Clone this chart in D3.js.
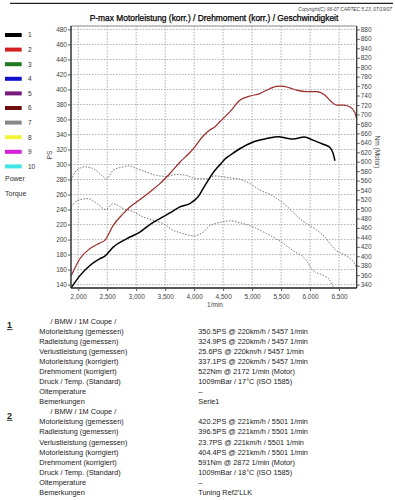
<!DOCTYPE html>
<html>
<head>
<meta charset="utf-8">
<script src="https://cdn.jsdelivr.net/npm/d3@7"></script>
<style>
  body { margin: 0; background: #fff; }
  svg { display: block; font-family: 'Liberation Sans', Arial, sans-serif; }
</style>
</head>
<body>
<svg id="chart" width="395" height="500"></svg>
<script>
(function () {
  'use strict'

  // car 1 (Serie) power, PS over 1/min
  var rpmCar1 = [1880, 2029, 2202, 2374, 2460, 2603, 2834, 3064, 3236, 3409, 3581, 3753, 3926, 4069, 4186, 4357, 4450, 4530, 4615, 4788, 5018, 5248, 5457, 5600, 5707, 5900, 6052, 6224, 6340, 6397, 6430]
  var psCar1 = [136, 152, 165.5, 174.5, 178, 190, 201, 210, 220, 228, 235.5, 243.5, 248, 257, 272, 292, 300, 307, 312, 321, 330, 334.5, 337.1, 335, 334, 336.5, 332.5, 327, 323, 315, 305]

  // car 2 (Tuning) power
  var rpmCar2 = [1880, 2029, 2202, 2374, 2460, 2603, 2776, 2891, 3007, 3236, 3409, 3581, 3753, 3926, 4012, 4155, 4270, 4357, 4443, 4615, 4788, 4960, 5133, 5305, 5420, 5501, 5650, 5765, 5938, 6110, 6253, 6369, 6455, 6569, 6684, 6770, 6805]
  var psCar2 = [152, 174.5, 188, 195.5, 199, 219, 234.5, 243.5, 250, 263.5, 274.5, 288, 303, 316, 323.5, 338, 346, 350, 357, 370, 385.5, 391, 394.5, 401, 404, 404.4, 402, 399, 397, 397, 392.5, 383.5, 379, 379, 377, 370, 360]

  // torque, Nm (Motor)
  var rpmTorque1 = [1880, 1985, 2172, 2330, 2474, 2603, 2776, 2948, 3121, 3293, 3466, 3638, 3810, 3983, 4155, 4270, 4357, 4500, 4615, 4788, 5018, 5248, 5457, 5707, 5909, 6052, 6228, 6343, 6400]
  var nmCar1 = [505, 518, 522, 511, 499, 511, 501, 494, 483, 476, 469, 455, 448, 443, 451, 465, 469, 473, 475, 471, 462, 448, 434, 412, 395, 370, 359.5, 349, 336]
  var rpmTorque2 = [1880, 1970, 2115, 2260, 2403, 2489, 2603, 2776, 2872, 3007, 3179, 3351, 3524, 3696, 3868, 4040, 4214, 4357, 4500, 4615, 4788, 4960, 5133, 5305, 5501, 5650, 5765, 5938, 6110, 6253, 6369, 6455, 6569, 6684, 6770, 6805]
  var nmCar2 = [561, 582, 589, 585.5, 571, 564, 582, 589, 591, 585.5, 578, 571, 569, 573, 571, 564, 564, 570, 568, 566, 563, 554, 540, 531, 516, 500, 486, 469, 456, 441, 423, 412, 405, 396, 384, 373]

  var rpmTicks = [2000, 2500, 3000, 3500, 4000, 4500, 5000, 5500, 6000, 6500]
  var psTicks = d3.range(140, 481, 20)
  var nmTicks = d3.range(340, 881, 20)

  var legendNames = ['1', '2', '3', '4', '5', '6', '7', '8', '9', '10']
  var legendColors = ['#000000', '#d42020', '#1f7a1f', '#1010cc', '#7a1a7a', '#6e0d0d', '#888888', '#f4f43a', '#d61fd6', '#3ee6e6']

  var rowLabels = ['Motorleistung (gemessen)', 'Radleistung (gemessen)', 'Verlustleistung (gemessen)', 'Motorleistung (korrigiert)', 'Drehmoment (korrigiert)', 'Druck / Temp. (Standard)', 'Oltemperature', 'Bemerkungen']
  var car1Values = ['350.5PS @ 220km/h / 5457 1/min', '324.9PS @ 220km/h / 5457 1/min', '25.6PS @ 220km/h / 5457 1/min', '337.1PS @ 220km/h / 5457 1/min', '522Nm @ 2172 1/min (Motor)', '1009mBar / 17°C   (ISO 1585)', '–', 'Serie1']
  var car2Values = ['420.2PS @ 221km/h / 5501 1/min', '396.5PS @ 221km/h / 5501 1/min', '23.7PS @ 221km/h / 5501 1/min', '404.4PS @ 221km/h / 5501 1/min', '591Nm @ 2872 1/min (Motor)', '1009mBar / 18°C   (ISO 1585)', '–', "Tuning Ref2'LLK"]

  var svg = d3.select('#chart')

  var x = d3.scaleLinear().domain([1875, 6805]).range([71, 356.7])
  var yPs = d3.scaleLinear().domain([135.5, 484.5]).range([288, 26])
  var yNm = d3.scaleLinear().domain([332.85, 887.15]).range([288, 26])

  // header
  svg.append('line')
    .attr('x1', 10).attr('x2', 393).attr('y1', 3.3).attr('y2', 3.3)
    .style('stroke', '#222').style('stroke-width', 1.2)
  svg.append('text')
    .attr('x', 392).attr('y', 10.5)
    .attr('text-anchor', 'end')
    .style('font-size', '4.8px').style('font-style', 'italic').style('fill', '#444')
    .text('Copyright(C) 96-07 CARTEC 5.23, 07/19/07')
  svg.append('text')
    .attr('x', 214).attr('y', 21)
    .attr('text-anchor', 'middle')
    .style('font-size', '8.4px').style('fill', '#000')
    .style('stroke', '#000').style('stroke-width', 0.25)
    .text('P-max Motorleistung (korr.) / Drehmoment (korr.) / Geschwindigkeit')

  // grid
  var grid = svg.append('g')
  grid.selectAll('.hgrid').data(psTicks).enter().append('line')
    .attr('x1', x.range()[0]).attr('x2', x.range()[1])
    .attr('y1', function (d) { return yPs(d) }).attr('y2', function (d) { return yPs(d) })
    .style('stroke', '#999').style('stroke-width', 0.8).style('stroke-dasharray', '1.5,1.5')
  grid.selectAll('.vgrid').data(rpmTicks).enter().append('line')
    .attr('y1', 26).attr('y2', 288)
    .attr('x1', function (d) { return x(d) }).attr('x2', function (d) { return x(d) })
    .style('stroke', '#999').style('stroke-width', 0.8).style('stroke-dasharray', '1.5,1.5')

  // curves
  function drawCurve (rpm, vals, yScale, color, width, dash) {
    var pts = rpm.map(function (r, i) { return [r, vals[i]] })
    var line = d3.line()
      .x(function (d) { return x(d[0]) })
      .y(function (d) { return yScale(d[1]) })
      .curve(d3.curveMonotoneX)
    svg.append('path')
      .datum(pts)
      .attr('d', line)
      .style('fill', 'none')
      .style('stroke', color)
      .style('stroke-width', width)
      .style('stroke-dasharray', dash || null)
  }

  drawCurve(rpmTorque1, nmCar1, yNm, '#666', 0.9, '1.5,1.5')
  drawCurve(rpmTorque2, nmCar2, yNm, '#666', 0.9, '1.5,1.5')
  drawCurve(rpmCar2, psCar2, yPs, '#9c2b2b', 1.2)
  drawCurve(rpmCar1, psCar1, yPs, '#000', 1.5)

  // frame
  svg.append('line').attr('x1', 71).attr('x2', 356.7).attr('y1', 26).attr('y2', 26)
    .style('stroke', '#888').style('stroke-width', 1)
  svg.append('line').attr('x1', 356.7).attr('x2', 356.7).attr('y1', 26).attr('y2', 288)
    .style('stroke', '#333').style('stroke-width', 1.3)
  svg.append('line').attr('x1', 71).attr('x2', 71).attr('y1', 26).attr('y2', 288)
    .style('stroke', '#333').style('stroke-width', 1.5)
  svg.append('line').attr('x1', 71).attr('x2', 356.7).attr('y1', 288).attr('y2', 288)
    .style('stroke', '#222').style('stroke-width', 1.5)

  // axes
  function styleAxis (g) {
    g.select('.domain').remove()
    g.selectAll('.tick line').style('stroke', '#555')
    g.selectAll('.tick text').style('font-size', '6.5px').style('fill', '#444')
      .style('font-family', "'Liberation Sans', Arial, sans-serif")
  }

  svg.append('g')
    .attr('transform', 'translate(71,0)')
    .call(d3.axisLeft(yPs).tickValues(psTicks).tickSize(3).tickPadding(1))
    .call(styleAxis)
  svg.append('g')
    .attr('transform', 'translate(356.7,0)')
    .call(d3.axisRight(yNm).tickValues(nmTicks).tickSize(3).tickPadding(1))
    .call(styleAxis)
  svg.append('g')
    .attr('transform', 'translate(0,288)')
    .call(d3.axisBottom(x).tickValues(rpmTicks).tickSize(3).tickPadding(3.5).tickFormat(d3.format(',')))
    .call(styleAxis)

  svg.append('text')
    .attr('x', 215).attr('y', 306.5)
    .attr('text-anchor', 'middle')
    .style('font-size', '6.5px').style('fill', '#444')
    .text('1/min')
  svg.append('text')
    .attr('transform', 'translate(52,155) rotate(-90)')
    .attr('text-anchor', 'middle')
    .style('font-size', '6.5px').style('fill', '#444')
    .text('PS')
  svg.append('text')
    .attr('transform', 'translate(375,152) rotate(90)')
    .attr('text-anchor', 'middle')
    .style('font-size', '6.5px').style('fill', '#444')
    .text('Nm (Motor)')

  // legend
  var legend = svg.append('g')
  legendNames.forEach(function (name, i) {
    var cy = 35 + i * 14.6
    legend.append('rect')
      .attr('x', 5).attr('y', cy - 2).attr('width', 16.7).attr('height', 4)
      .style('fill', legendColors[i])
    legend.append('text')
      .attr('x', 28).attr('y', cy + 2.4)
      .style('font-size', '6.5px').style('fill', '#333')
      .text(name)
  })
  legend.append('text').attr('x', 5).attr('y', 180.8)
    .style('font-size', '7px').style('fill', '#333').text('Power')
  legend.append('text').attr('x', 5).attr('y', 195.8)
    .style('font-size', '7px').style('fill', '#333').text('Torque')

  // data table
  function drawBlock (num, top, values) {
    var step = 10.08
    var g = svg.append('g').style('font-size', '7.3px').style('fill', '#222')
    g.append('text')
      .attr('x', 7).attr('y', top + 6.8)
      .style('font-size', '9px').style('font-weight', 'bold')
      .text(num)
    g.append('line')
      .attr('x1', 7).attr('x2', 12.5).attr('y1', top + 8.6).attr('y2', top + 8.6)
      .style('stroke', '#222').style('stroke-width', 0.9)
    g.append('text')
      .attr('x', 50.5).attr('y', top + 2.6)
      .text('/ BMW / 1M Coupe /')
    rowLabels.forEach(function (label, i) {
      var by = top + 2.6 + (i + 1) * step
      g.append('text').attr('x', 39.3).attr('y', by).text(label)
      g.append('text').attr('x', 198.3).attr('y', by).text(values[i])
    })
  }

  drawBlock('1', 321, car1Values)
  drawBlock('2', 411.7, car2Values)
})()
</script>
</body>
</html>
